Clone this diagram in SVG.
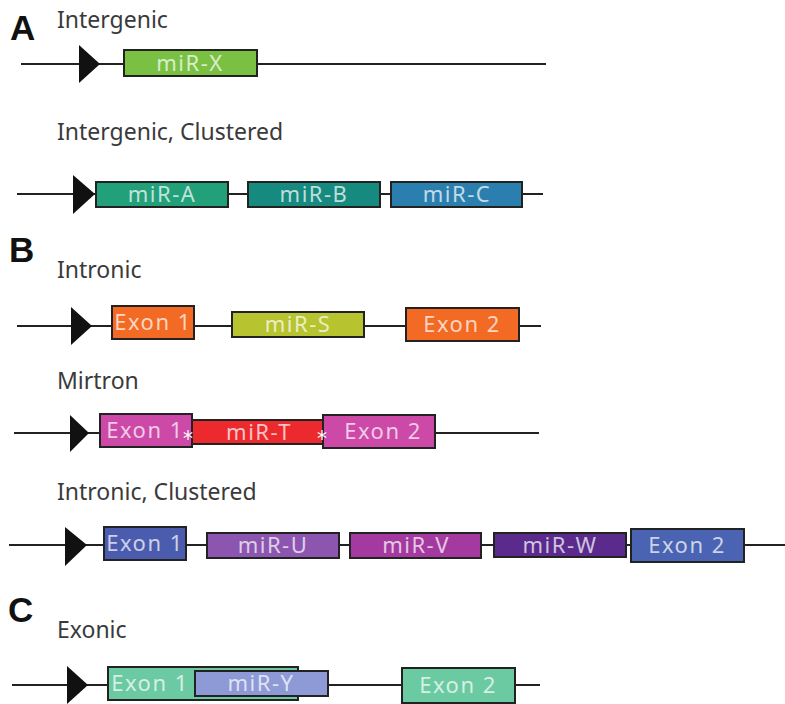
<svg xmlns="http://www.w3.org/2000/svg" width="785" height="704" viewBox="0 0 785 704">
<style>
.bg{fill:#fff}
.panel{font-family:"Liberation Sans",Arial,sans-serif;font-weight:bold;font-size:35px;fill:#111}
.lab{font-family:"Noto Sans","Open Sans",sans-serif;font-size:23px;fill:#3a3a3a}
.gl{stroke:#222;stroke-width:2;fill:none}
.pr{fill:#111}
.box{stroke:#222;stroke-width:2}
.bt{font-family:"Noto Sans","Open Sans",sans-serif;font-size:22px;letter-spacing:1.5px;fill:#fff;fill-opacity:0.72;text-anchor:middle}
.star{stroke:#fff;stroke-width:1.3;fill:none}
</style>
<rect class="bg" x="0" y="0" width="785" height="704"/>
<g id="labels">
<text class="panel" x="10" y="40">A</text>
<text class="panel" x="9" y="262">B</text>
<text class="panel" x="8" y="622">C</text>
<text class="lab" x="57" y="28">Intergenic</text>
<text class="lab" x="57" y="140">Intergenic, Clustered</text>
<text class="lab" x="57" y="278">Intronic</text>
<text class="lab" x="57" y="389">Mirtron</text>
<text class="lab" x="57" y="500">Intronic, Clustered</text>
<text class="lab" x="57" y="638">Exonic</text>
</g>
<g id="connectors">
<line class="gl" x1="21" y1="64" x2="546" y2="64"/>
<line class="gl" x1="17" y1="194" x2="543" y2="194"/>
<line class="gl" x1="17" y1="326" x2="541" y2="326"/>
<line class="gl" x1="14" y1="433" x2="539" y2="433"/>
<line class="gl" x1="9" y1="545" x2="785" y2="545"/>
<line class="gl" x1="12" y1="685" x2="540" y2="685"/>
</g>
<g id="promoters">
<polygon class="pr" points="79,45 100,64 79,83"/>
<polygon class="pr" points="73,175 95,194 73,214"/>
<polygon class="pr" points="71,307 92,326 71,345"/>
<polygon class="pr" points="70,415 89,433 70,452"/>
<polygon class="pr" points="65,527 87,545 65,566"/>
<polygon class="pr" points="67,666 88,685 67,704"/>
</g>
<g id="miR-X"><rect class="box" x="124" y="50" width="133" height="26" fill="#7ac143"/><text class="bt" x="190" y="71">miR-X</text></g>
<g id="miR-A"><rect class="box" x="96" y="182" width="132" height="25" fill="#22a07a"/><text class="bt" x="162" y="202">miR-A</text></g>
<g id="miR-B"><rect class="box" x="248" y="182" width="132" height="25" fill="#178a7f"/><text class="bt" x="314" y="202">miR-B</text></g>
<g id="miR-C"><rect class="box" x="391" y="182" width="131" height="25" fill="#2b7fae"/><text class="bt" x="457" y="202">miR-C</text></g>
<g id="intronic-exon1"><rect class="box" x="112" y="306" width="82" height="33" fill="#f26a24"/><text class="bt" x="153" y="330">Exon 1</text></g>
<g id="miR-S"><rect class="box" x="232" y="312" width="132" height="25" fill="#b8c42f"/><text class="bt" x="298" y="332">miR-S</text></g>
<g id="intronic-exon2"><rect class="box" x="406" y="308" width="113" height="33" fill="#f26a24"/><text class="bt" x="462" y="332">Exon 2</text></g>
<g id="mirtron-exon1"><rect class="box" x="100" y="414" width="92" height="33" fill="#cc49a8"/><text class="bt" x="145" y="438">Exon 1</text></g>
<g id="mirtron-exon2"><rect class="box" x="323" y="415" width="112" height="33" fill="#cc49a8"/><text class="bt" x="383" y="439">Exon 2</text></g>
<g id="miR-T"><rect class="box" x="192" y="420" width="131" height="24" fill="#ec2a2e"/><text class="bt" x="259" y="440">miR-T</text></g>
<g id="splice-sites">
<path class="star" d="M188,430v10M183.7,432.5l8.6,5M183.7,437.5l8.6,-5"/>
<path class="star" d="M322,430v10M317.7,432.5l8.6,5M317.7,437.5l8.6,-5"/>
</g>
<g id="cluster-exon1"><rect class="box" x="104" y="527" width="82" height="33" fill="#4b5cae"/><text class="bt" x="145" y="551">Exon 1</text></g>
<g id="miR-U"><rect class="box" x="207" y="533" width="132" height="25" fill="#8c56b0"/><text class="bt" x="273" y="553">miR-U</text></g>
<g id="miR-V"><rect class="box" x="350" y="533" width="131" height="25" fill="#a43a9f"/><text class="bt" x="416" y="553">miR-V</text></g>
<g id="miR-W"><rect class="box" x="494" y="533" width="132" height="24" fill="#5a2a8c"/><text class="bt" x="560" y="553">miR-W</text></g>
<g id="cluster-exon2"><rect class="box" x="631" y="529" width="113" height="33" fill="#4a63b3"/><text class="bt" x="687" y="553">Exon 2</text></g>
<g id="exonic-exon1"><rect class="box" x="108" y="667" width="190" height="33" fill="#6ccaa3"/><text class="bt" x="150" y="691">Exon 1</text></g>
<g id="miR-Y"><rect class="box" x="195" y="671" width="133" height="25" fill="#8e9ad6"/><text class="bt" x="261" y="691">miR-Y</text></g>
<g id="exonic-exon2"><rect class="box" x="402" y="668" width="113" height="35" fill="#6ccaa3"/><text class="bt" x="458" y="693">Exon 2</text></g>
</svg>
